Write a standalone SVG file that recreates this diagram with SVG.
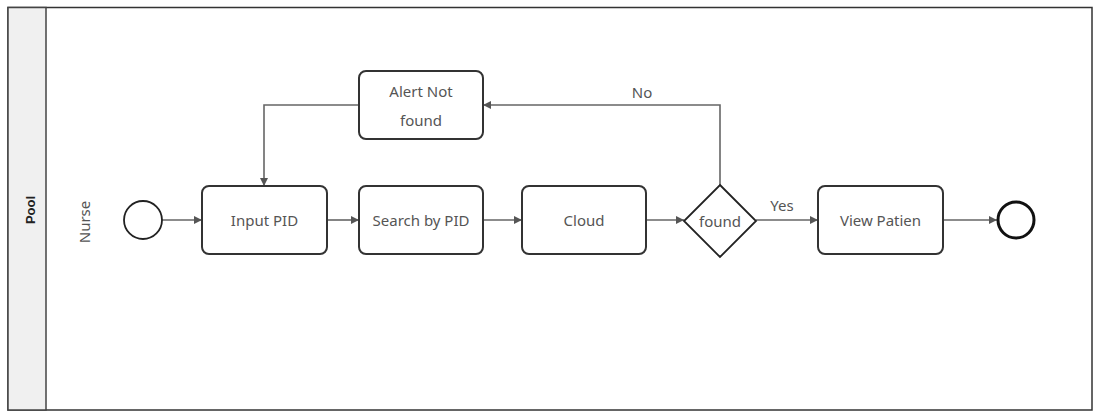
<svg xmlns="http://www.w3.org/2000/svg" width="1093" height="412" viewBox="0 0 1093 412">
<style>
.task{fill:#fff;stroke:#333;stroke-width:2}
.lbl{font-family:"Noto Sans","Open Sans",sans-serif;font-size:15px;fill:#555;text-anchor:middle;dominant-baseline:central}
.edge{fill:none;stroke:#666;stroke-width:1.6}
</style>
<defs>
<marker id="arr" viewBox="0 0 10 10" refX="10" refY="5" markerWidth="8" markerHeight="8" markerUnits="userSpaceOnUse" orient="auto"><path d="M0,0 L10,5 L0,10 z" fill="#555"/></marker>
</defs>
<rect width="1093" height="412" fill="#fff"/>
<g id="pool">
<rect x="8" y="7.5" width="1084" height="402.5" fill="#fff" stroke="#333" stroke-width="1.5"/>
<rect x="8" y="7.5" width="38" height="402.5" fill="#f0f0f0" stroke="#444" stroke-width="1.5"/>
<text x="30" y="210" transform="rotate(-90 30 210)" font-family="'Liberation Sans',Arial,sans-serif" font-size="13" font-weight="bold" fill="#222" text-anchor="middle" dominant-baseline="central">Pool</text>
<text x="84" y="222" transform="rotate(-90 84 222)" class="lbl">Nurse</text>
</g>
<g id="connectors">
<line class="edge" x1="162" y1="220" x2="202" y2="220" marker-end="url(#arr)"/>
<line class="edge" x1="327" y1="220" x2="359" y2="220" marker-end="url(#arr)"/>
<line class="edge" x1="483" y1="220" x2="522" y2="220" marker-end="url(#arr)"/>
<line class="edge" x1="646" y1="220" x2="684" y2="220" marker-end="url(#arr)"/>
<line class="edge" x1="756" y1="220" x2="818" y2="220" marker-end="url(#arr)"/>
<line class="edge" x1="943" y1="220" x2="997" y2="220" marker-end="url(#arr)"/>
<polyline class="edge" points="720,185 720,105 483,105" marker-end="url(#arr)"/>
<polyline class="edge" points="359,105 264,105 264,186" marker-end="url(#arr)"/>
<text class="lbl" x="642" y="92">No</text>
<text class="lbl" x="782" y="205">Yes</text>
</g>
<g id="start"><circle cx="143" cy="220" r="19" fill="#fff" stroke="#222" stroke-width="1.8"/></g>
<g id="inputPID"><rect class="task" x="202" y="186" width="125" height="68" rx="7"/><text class="lbl" x="264.5" y="220">Input PID</text></g>
<g id="searchPID"><rect class="task" x="359" y="186" width="124" height="68" rx="7"/><text class="lbl" x="421" y="220">Search by PID</text></g>
<g id="alert"><rect class="task" x="359" y="71" width="124" height="68" rx="7"/><text class="lbl" x="421" y="91">Alert Not</text><text class="lbl" x="421" y="120">found</text></g>
<g id="cloud"><rect class="task" x="522" y="186" width="124" height="68" rx="7"/><text class="lbl" x="584" y="220">Cloud</text></g>
<g id="found"><polygon points="720,185 756,221 720,257 684,221" fill="#fff" stroke="#222" stroke-width="1.8"/><text class="lbl" x="720" y="221">found</text></g>
<g id="viewPatien"><rect class="task" x="818" y="186" width="125" height="68" rx="7"/><text class="lbl" x="880.5" y="220">View Patien</text></g>
<g id="end"><circle cx="1016" cy="220" r="18" fill="#fff" stroke="#111" stroke-width="3"/></g>
</svg>
